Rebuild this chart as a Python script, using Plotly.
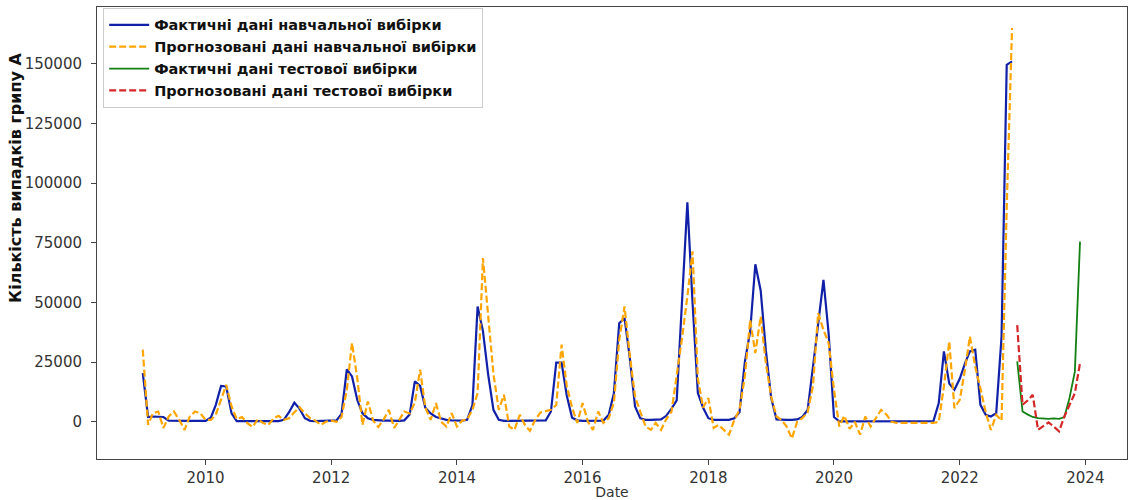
import pandas as pd
import plotly.graph_objects as go

# ---- data (monthly) ----
train_start = "2009-01-01"
test_start = "2022-12-01"

train_actual = [
    20400, 2000, 2200, 2200, 2000, 500, 400, 400, 400, 400, 400, 400,          # 2009
    400, 1800, 7000, 15000, 14800, 3500, 300, 300, 300, 300, 300, 300,         # 2010
    300, 300, 300, 800, 4000, 8000, 5500, 1500, 400, 300, 300, 300,            # 2011
    300, 600, 3300, 22000, 19000, 9000, 3500, 1500, 800, 500, 500, 500,        # 2012
    400, 400, 600, 3000, 16900, 15000, 5900, 3500, 2000, 1300, 800, 600,       # 2013
    500, 500, 800, 7000, 48300, 38000, 20000, 5000, 800, 400, 400, 400,        # 2014
    400, 400, 400, 400, 400, 600, 4300, 24800, 24800, 11000, 1700, 600,        # 2015
    400, 400, 400, 400, 500, 2900, 12000, 41300, 43400, 27000, 6400, 1500,     # 2016
    800, 800, 800, 1000, 2500, 5500, 9000, 50500, 92000, 50000, 12000, 6000,   # 2017
    1500, 800, 800, 800, 800, 1500, 4000, 25000, 38000, 66000, 55000, 30000,   # 2018
    10000, 1000, 800, 800, 800, 1000, 2000, 5000, 23000, 42000, 59500, 37000,  # 2019
    2000, 200, 200, 200, 200, 200, 200, 200, 200, 200, 200, 200,               # 2020
    200, 200, 200, 200, 200, 200, 200, 300, 7800, 29500, 16000, 13400,         # 2021
    18000, 24600, 29500, 30200, 7100, 2900, 2200, 3600, 35700, 149600, 151000, # 2022
]

train_pred = [
    30200, -1300, 3600, 4300, -2600, 2200, 4300, 800, -3400, 2200, 4300, 3600,   # 2009
    800, 800, 2900, 9000, 15500, 6400, 1100, 2000, -600, -2200, 1100, -500,      # 2010
    -1300, 1500, 2500, 800, 1500, 4000, 6100, 3500, 1500, 500, -1300, 0,         # 2011
    500, 0, 2000, 13400, 33000, 18000, -1300, 8500, 500, -2200, 1000, 5000,      # 2012
    -2600, 1000, 4300, 3500, 8000, 21800, 6000, 800, 7800, 0, -2000, 3600,       # 2013
    -2000, 500, 1000, 5000, 12000, 68600, 45000, 20000, 5000, 11300, -2000, -3400,  # 2014
    2900, -1500, -3800, 800, 3900, 4500, 5000, 7000, 32300, 15000, 6000, -500,   # 2015
    7800, 0, -3400, 4300, -500, 1500, 8000, 34400, 48300, 28000, 10600, 4300,    # 2016
    -2000, -3400, -500, -3400, 1000, 4300, 19000, 35000, 52500, 71400, 18000, 6000,  # 2017
    9900, -2600, -1300, -3400, -5400, 800, 5000, 19000, 42700, 28800, 44100, 24600,  # 2018
    10600, 2200, 800, -2000, -7000, 0, 1500, 4000, 15000, 45500, 38500, 33000,   # 2019
    13400, -2000, 2500, -3000, 0, -5400, 2200, -2000, 1500, 5000, 3000, 0,       # 2020
    -500, -500, -500, -500, -500, -500, -500, -500, 0, 14800, 33600, 5700,       # 2021
    9200, 22000, 35700, 23000, 14000, 4000, -3400, 2900, 500, 90000, 165000,     # 2022
]

test_actual = [25300, 4300, 3000, 2000, 1500, 1300, 1200, 1400, 1200, 2000, 10000, 21000, 75500]
test_pred = [40500, 7100, 9000, 11300, -3400, -2000, -300, -2000, -4000, 2200, 7000, 12000, 24600]

names = [
    "Фактичні дані навчальної вибірки",
    "Прогнозовані дані навчальної вибірки",
    "Фактичні дані тестової вибірки",
    "Прогнозовані дані тестової вибірки",
]
y_title = "Кількість випадків грипу А"
x_title = "Date"
y_ticks = [0, 25000, 50000, 75000, 100000, 125000, 150000]

train_dates = pd.date_range(train_start, periods=len(train_actual), freq="MS")
test_dates = pd.date_range(test_start, periods=len(test_actual), freq="MS")

fig = go.Figure()
fig.add_trace(go.Scatter(x=train_dates, y=train_actual, mode="lines", name=names[0],
                         line=dict(color="#1020a8", width=2.2)))
fig.add_trace(go.Scatter(x=train_dates, y=train_pred, mode="lines", name=names[1],
                         line=dict(color="#ffa500", width=2.2, dash="7px,3px")))
fig.add_trace(go.Scatter(x=test_dates, y=test_actual, mode="lines", name=names[2],
                         line=dict(color="#138013", width=1.8)))
fig.add_trace(go.Scatter(x=test_dates, y=test_pred, mode="lines", name=names[3],
                         line=dict(color="#d62728", width=2.2, dash="7px,3px")))

axis_common = dict(showline=True, linecolor="#444", linewidth=1, mirror=True,
                   ticks="outside", ticklen=5, tickcolor="#444", showgrid=False,
                   zeroline=False, automargin=False,
                   tickfont=dict(family="DejaVu Sans", size=15, color="#333"))

fig.update_layout(
    width=1133, height=500,
    margin=dict(l=97, r=6, t=7, b=41),
    paper_bgcolor="white", plot_bgcolor="white",
    font=dict(family="DejaVu Sans", color="#222"),
    xaxis=dict(range=["2008-04-10", "2024-08-30"], tickformat="%Y", dtick="M24",
               tick0="2010-01-01",
               title=dict(text=x_title, font=dict(size=14, color="#333"), standoff=4),
               **axis_common),
    yaxis=dict(range=[-15600, 173800], tickvals=y_ticks, tickformat="d",
               ticklabelstandoff=6, **axis_common),
    legend=dict(x=0.006, y=0.998, xanchor="left", yanchor="top",
                bgcolor="rgba(255,255,255,0.9)", bordercolor="#cccccc", borderwidth=1,
                font=dict(family="DejaVu Sans", size=14.5, color="#111", weight="bold"),
                itemwidth=40),
    showlegend=True,
    annotations=[dict(text=y_title, textangle=-90, xref="paper", yref="paper",
                      x=-0.0786, y=0.622, xanchor="center", yanchor="middle",
                      showarrow=False,
                      font=dict(family="DejaVu Sans", size=16, color="#111", weight="bold"))],
)

fig.write_html("out.html")
